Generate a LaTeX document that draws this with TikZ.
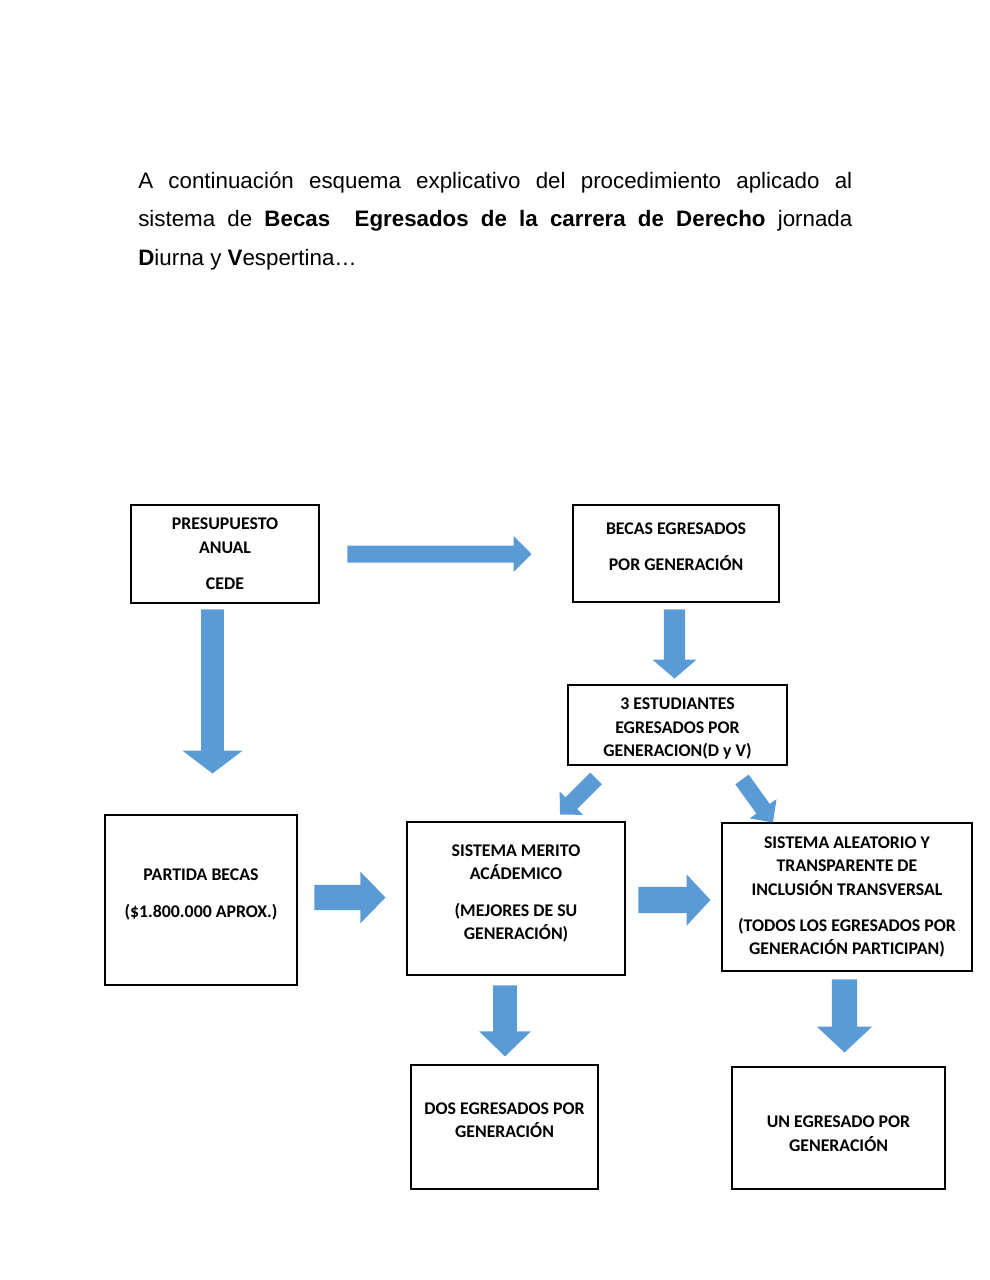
\documentclass[tikz,border=0pt]{standalone}
\usepackage{fontspec}
\setmainfont{Liberation Sans}
\newfontfamily\boxfont{Carlito}
\usetikzlibrary{arrows.meta}
\newlength{\pu}\setlength{\pu}{0.618pt}
\definecolor{arrowblue}{HTML}{5B9BD5}
% invisible struts to move box texts up or down
\newcommand{\dn}[1]{\rule[-#1]{0pt}{#1}}
\newcommand{\up}[1]{\rule{0pt}{#1}}

\begin{document}
\begin{tikzpicture}[x=0.618pt, y=-0.618pt,
  box/.style={rectangle, draw, line width=1.8pt, align=center, inner sep=0pt,
    font=\boxfont\bfseries\fontsize{11}{14.5}\selectfont},
  fat/.style n args={3}{draw=arrowblue, line width=#1,
    -{Triangle[width=#2, length=#3]}}]
  \useasboundingbox (0,0) rectangle (990,1280);

  % Text
  \node[anchor=base west, text width=714\pu, align=justify, inner sep=0pt,
    font=\fontsize{13.8}{23.8}\selectfont] (intro) at (138,188)
    {A continuación esquema explicativo del procedimiento aplicado al\linebreak
     sistema de \textbf{Becas\ \ Egresados de la carrera de Derecho} jornada\linebreak
     \textbf{D}iurna y \textbf{V}espertina…};

  % Nodes
  \node[box, minimum width=188\pu, minimum height=98\pu] (presupuesto) at (225,554)
    {PRESUPUESTO\\ANUAL\\[8pt]CEDE};
  \node[box, minimum width=206\pu, minimum height=97\pu] (becas) at (676,553.5)
    {BECAS EGRESADOS\\[8pt]POR GENERACIÓN\dn{8.6pt}};
  \node[box, minimum width=219\pu, minimum height=80\pu] (estudiantes) at (677.5,725)
    {\up{12.1pt}3 ESTUDIANTES\\EGRESADOS POR\\GENERACION(D y V)};
  \node[box, minimum width=192\pu, minimum height=170\pu] (partida) at (201,900)
    {PARTIDA BECAS\\[8pt](\$1.800.000 APROX.)\dn{8.5pt}};
  \node[box, minimum width=218\pu, minimum height=153\pu] (merito) at (516,898.5)
    {SISTEMA MERITO\\ACÁDEMICO\\[8pt](MEJORES DE SU\\GENERACIÓN)\dn{7.9pt}};
  \node[box, minimum width=250\pu, minimum height=148\pu] (aleatorio) at (847,897)
    {SISTEMA ALEATORIO Y\\TRANSPARENTE DE\\INCLUSIÓN TRANSVERSAL\\[8pt](TODOS LOS EGRESADOS POR\\GENERACIÓN PARTICIPAN)};
  \node[box, minimum width=187\pu, minimum height=124\pu] (dos) at (504.5,1127)
    {DOS EGRESADOS POR\\GENERACIÓN\dn{8.6pt}};
  \node[box, minimum width=213\pu, minimum height=122\pu] (un) at (838.5,1128)
    {\up{14.5pt}UN EGRESADO POR\\GENERACIÓN};

  % Arrows
  \draw[fat={10.5pt}{21.6pt}{11.1pt}] ([xshift=27\pu]presupuesto.east)
    -- ([xshift=-40\pu, yshift=-0.5\pu]becas.west);
  \draw[fat={14.2pt}{36.5pt}{14.2pt}] ([xshift=-12.5\pu, yshift=-5\pu]presupuesto.south)
    -- ([xshift=11.5\pu, yshift=40\pu]partida.north);
  \draw[fat={13pt}{26.6pt}{11.7pt}] ([xshift=-1.5\pu, yshift=-6\pu]becas.south)
    -- ([xshift=-3\pu, yshift=5\pu]estudiantes.north);
  \draw[fat={10.2pt}{19.8pt}{9.9pt}] ([xshift=-81.5\pu, yshift=-12\pu]estudiantes.south)
    -- ([xshift=44\pu, yshift=6\pu]merito.north);
  \draw[fat={10.2pt}{19.8pt}{10.5pt}] ([xshift=64.5\pu, yshift=-13\pu]estudiantes.south)
    -- ([xshift=-74\pu, yshift=-1\pu]aleatorio.north);
  \draw[fat={15.5pt}{30.9pt}{15.5pt}] ([xshift=16\pu, yshift=2.5\pu]partida.east)
    -- ([xshift=-20\pu, yshift=1\pu]merito.west);
  \draw[fat={16.1pt}{30.9pt}{14.8pt}] ([xshift=12\pu, yshift=-1.5\pu]merito.east)
    -- ([xshift=-10\pu, yshift=-3\pu]aleatorio.west);
  \draw[fat={14.8pt}{30.9pt}{15.5pt}] ([xshift=-11\pu, yshift=-9\pu]merito.south)
    -- ([xshift=0.5\pu, yshift=7\pu]dos.north);
  \draw[fat={15.5pt}{33.4pt}{16.1pt}] ([xshift=-2.5\pu, yshift=-7\pu]aleatorio.south)
    -- ([xshift=6\pu, yshift=13\pu]un.north);
\end{tikzpicture}
\end{document}
